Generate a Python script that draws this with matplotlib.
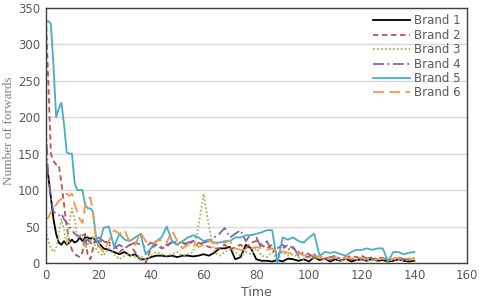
import matplotlib
matplotlib.use("Agg")
import matplotlib.pyplot as plt

# time axis: every step up to 20, then every 2 steps
t = list(range(0, 21)) + list(range(22, 141, 2))

brand1 = [145, 120, 90, 60, 40, 28, 25, 30, 25, 28, 32, 28, 30, 35, 30, 35, 35, 33, 35, 30, 28,
          20, 18, 15, 12, 15, 10, 12, 5, 5, 8, 10, 10, 9, 10, 8, 10, 10, 9, 10, 12,
          10, 14, 20, 20, 22, 5, 8, 25, 20, 5, 3, 3, 2, 4, 2, 6, 5, 3, 5, 2,
          8, 4, 6, 2, 5, 3, 6, 2, 4, 5, 3, 6, 3, 4, 2, 3, 5, 3, 2, 3]
brand2 = [350, 250, 150, 140, 135, 135, 110, 80, 50, 30, 18, 12, 10, 8, 15, 40, 10, 5, 20, 35, 30,
          30, 28, 25, 15, 20, 25, 15, 5, 0, 20, 25, 20, 22, 30, 25, 28, 25, 30, 28, 25,
          22, 20, 20, 25, 18, 22, 25, 20, 28, 30, 25, 20, 25, 10, 20, 25, 20, 15, 10, 8,
          12, 5, 6, 4, 8, 4, 6, 10, 8, 5, 6, 4, 8, 6, 4, 5, 6, 4, 5, 8]
brand3 = [50, 30, 20, 15, 20, 40, 60, 45, 25, 55, 75, 60, 35, 40, 35, 20, 25, 30, 35, 20, 15,
          10, 20, 12, 5, 10, 12, 8, 10, 5, 10, 15, 12, 10, 12, 15, 10, 12, 15, 50, 95,
          50, 15, 10, 15, 20, 15, 10, 15, 12, 20, 10, 8, 15, 5, 15, 10, 12, 8, 5, 10,
          6, 8, 4, 6, 8, 3, 5, 7, 4, 6, 3, 5, 4, 6, 3, 4, 6, 3, 5, 4]
brand4 = [190, 120, 90, 70, 68, 65, 68, 60, 55, 50, 45, 40, 38, 35, 40, 30, 32, 28, 25, 30, 35,
          30, 25, 20, 25, 20, 25, 28, 25, 22, 28, 25, 22, 25, 28, 30, 25, 28, 30, 25, 28,
          30, 35, 40, 48, 35, 40, 45, 30, 40, 35, 20, 30, 15, 20, 25, 18, 22, 10, 15, 12,
          8, 10, 6, 8, 10, 6, 8, 5, 7, 10, 6, 8, 5, 7, 4, 6, 8, 5, 6, 7]
brand5 = [330, 332, 328, 270, 200, 212, 220, 190, 152, 150, 150, 110, 100, 100, 100, 80, 75, 75, 70, 40, 22,
          48, 50, 22, 40, 32, 30, 35, 40, 12, 20, 30, 35, 50, 30, 25, 30, 35, 38, 35, 30,
          32, 28, 28, 30, 30, 35, 35, 38, 38, 40, 42, 45, 45, 0, 35, 32, 35, 30, 28, 35,
          40, 10, 15, 14, 15, 12, 10, 15, 18, 18, 20, 18, 20, 20, 2, 15, 15, 12, 14, 15]
brand6 = [60, 62, 70, 75, 80, 85, 88, 92, 95, 92, 95, 80, 70, 60, 55, 80, 88, 90, 70, 35, 25,
          15, 30, 45, 40, 45, 28, 25, 42, 30, 25, 30, 32, 28, 45, 30, 20, 25, 28, 22, 25,
          30, 28, 25, 28, 30, 20, 18, 18, 20, 22, 20, 18, 20, 15, 16, 14, 12, 14, 10, 12,
          10, 8, 10, 6, 8, 5, 7, 6, 8, 7, 5, 6, 5, 6, 4, 6, 7, 5, 6, 6]

labels = ["Brand 1", "Brand 2", "Brand 3", "Brand 4", "Brand 5", "Brand 6"]
series = [brand1, brand2, brand3, brand4, brand5, brand6]
colors = ["#000000", "#c0504d", "#9bbb59", "#8064a2", "#4bacc6", "#f79646"]
styles = ["-", (0, (3, 2)), (0, (1, 1.2)), (0, (6, 2, 1, 2)), "-", (0, (6, 3))]

fig = plt.figure(figsize=(4.8, 3.04), dpi=100)
ax = fig.add_axes([0.095, 0.135, 0.878, 0.839])

for y, lab, c, ls in zip(series, labels, colors, styles):
    ax.plot(t, y, color=c, linestyle=ls, linewidth=1.3, label=lab)

ax.set_xlim(0, 160)
ax.set_ylim(0, 350)
ax.set_xticks(range(0, 161, 20))
ax.set_yticks(range(0, 351, 50))
ax.grid(axis="y", color="#d9d9d9", linewidth=1)
ax.set_axisbelow(True)
for s in ax.spines.values():
    s.set_color("#404040")
    s.set_linewidth(1)
ax.tick_params(length=0, labelsize=8.5, labelcolor="#595959", pad=4)

ax.set_xlabel("Time", fontsize=9, color="#595959", labelpad=3)
ax.set_ylabel("Number of forwards", fontsize=9.5, color="#808080", family="Liberation Serif")
ax.yaxis.set_label_coords(-0.072, 0.52)

leg = ax.legend(loc="upper right", frameon=False, fontsize=8.5, handlelength=3.2,
                labelspacing=0.12, borderaxespad=0.15, handletextpad=0.3)
for txt in leg.get_texts():
    txt.set_color("#595959")

fig.savefig("out.png", dpi=100)
